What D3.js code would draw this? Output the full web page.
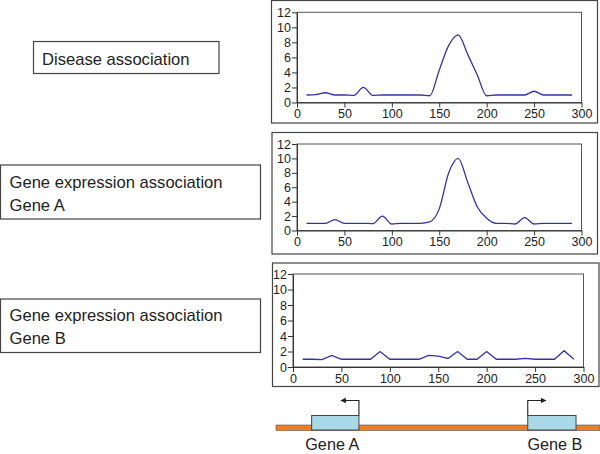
<!DOCTYPE html>
<html>
<head>
<meta charset="utf-8">
<script src="https://cdn.jsdelivr.net/npm/d3@7"></script>
<style>
  body { margin: 0; background: #fff; }
  svg { font-family: "Liberation Sans", Arial, sans-serif; }
  .axis path, .axis line { stroke: #333; }
  .axis text { font-size: 12.5px; fill: #222; }
</style>
</head>
<body>
<div id="chart"></div>
<script>
var positions = [10,20,30,40,50,60,70,80,90,100,110,120,130,140,150,160,170,180,190,200,210,220,230,240,250,260,270,280,290];
var disease = [1,1.05,1.3,1,1,0.95,2,0.95,1,1,1,1,1,0.9,4.3,7.6,9,6.4,3.7,0.9,1,1,1,1,1.5,1,1,1,1];
var geneAExpr = [1,1,1,1.5,1,1,1,0.95,2,0.9,1,1,1,1.2,3,8,10,6.7,3.3,1.7,1,1,0.9,1.8,0.9,1,1,1,1];
var geneBExpr = [1,1,0.95,1.5,1,1,1,1,2,1,1,1,1,1.5,1.4,1.1,2,1,1,2,1,1,1,1.1,1,1,1,2.1,1];
var yTicks = [0,2,4,6,8,10,12];
var xTicks = [0,50,100,150,200,250,300];
var panelLabels = [["Disease association"], ["Gene expression association", "Gene A"], ["Gene expression association", "Gene B"]];
var genes = [{name: "Gene A", start: 11, end: 25.6, dir: -1}, {name: "Gene B", start: 77.7, end: 92.6, dir: 1}];

var width = 600, height = 454;
var svg = d3.select("#chart").append("svg")
  .attr("width", width)
  .attr("height", height);

// layout of the three stacked panels
var panels = [
  {data: disease, box: [271.5, 0.5, 597.5, 123], plot: [297, 12.3, 581.5, 102.5],
   label: [33.5, 41.5, 219, 73.5], lineY: [64.5]},
  {data: geneAExpr, box: [272, 132.5, 597.5, 254], plot: [297, 144, 581.5, 230.5],
   label: [0.5, 165, 260.5, 219], lineY: [187.5, 210.5]},
  {data: geneBExpr, box: [272.5, 263, 599, 386.5], plot: [293, 274, 583.5, 367],
   label: [0.5, 299, 260.5, 352.5], lineY: [320.5, 343.5]}
];

panels.forEach(function(p, i) {
  svg.append("rect")
    .attr("x", p.box[0]).attr("y", p.box[1])
    .attr("width", p.box[2] - p.box[0]).attr("height", p.box[3] - p.box[1])
    .attr("fill", "none").attr("stroke", "#444").attr("stroke-width", 1.2);

  var xScale = d3.scaleLinear().domain([0, 300]).range([p.plot[0], p.plot[2]]);
  var yScale = d3.scaleLinear().domain([0, 12]).range([p.plot[3], p.plot[1]]);

  svg.append("rect")
    .attr("x", p.plot[0]).attr("y", p.plot[1])
    .attr("width", p.plot[2] - p.plot[0]).attr("height", p.plot[3] - p.plot[1])
    .attr("fill", "none").attr("stroke", "#555").attr("stroke-width", 1);

  svg.append("g")
    .attr("class", "axis")
    .attr("transform", `translate(0,${p.plot[3]})`)
    .call(d3.axisBottom(xScale).tickValues(xTicks).tickSize(5).tickPadding(2).tickSizeOuter(0));

  svg.append("g")
    .attr("class", "axis")
    .attr("transform", `translate(${p.plot[0]},0)`)
    .call(d3.axisLeft(yScale).tickValues(yTicks).tickSize(5).tickPadding(1).tickSizeOuter(0));

  var line = d3.line()
    .x(function(d, j) { return xScale(positions[j]); })
    .y(function(d) { return yScale(d); })
    .curve(i == 2 ? d3.curveLinear : d3.curveMonotoneX);

  svg.append("path")
    .datum(p.data)
    .attr("d", line)
    .attr("fill", "none")
    .attr("stroke", "#3434a0")
    .attr("stroke-width", 1.3);

  // label box on the left
  svg.append("rect")
    .attr("x", p.label[0]).attr("y", p.label[1])
    .attr("width", p.label[2] - p.label[0]).attr("height", p.label[3] - p.label[1])
    .attr("fill", "none").attr("stroke", "#444").attr("stroke-width", 1.2);

  panelLabels[i].forEach(function(t, k) {
    svg.append("text")
      .attr("x", p.label[0] + (i == 0 ? 8.5 : 9))
      .attr("y", p.lineY[k])
      .attr("font-size", "16.6px")
      .attr("fill", "#222")
      .text(t);
  });
});

// gene track
var trackScale = d3.scaleLinear().domain([0, 100]).range([276, 600]);

svg.append("rect")
  .attr("x", trackScale(0)).attr("y", 425)
  .attr("width", trackScale(100) - trackScale(0)).attr("height", 5.5)
  .attr("fill", "#ef7d22").attr("stroke", "#555").attr("stroke-width", 0.6);

svg.append("defs").append("marker")
  .attr("id", "arrow")
  .attr("viewBox", "0 0 10 10")
  .attr("refX", 9).attr("refY", 5)
  .attr("markerWidth", 5).attr("markerHeight", 5)
  .attr("orient", "auto")
  .append("path").attr("d", "M0,0L10,5L0,10z").attr("fill", "#222");

genes.forEach(function(g) {
  svg.append("rect")
    .attr("x", trackScale(g.start)).attr("y", 415.5)
    .attr("width", trackScale(g.end) - trackScale(g.start)).attr("height", 14.5)
    .attr("fill", "#a9d8e6").attr("stroke", "#444").attr("stroke-width", 1);

  var base = g.dir < 0 ? trackScale(g.end) : trackScale(g.start);
  svg.append("path")
    .attr("d", `M${base},415.5V400.5H${base + g.dir * 18}`)
    .attr("fill", "none")
    .attr("stroke", "#222")
    .attr("stroke-width", 1.1)
    .attr("marker-end", "url(#arrow)");

  svg.append("text")
    .attr("x", (trackScale(g.start) + trackScale(g.end)) / 2 + 3 * g.dir)
    .attr("y", 450)
    .attr("text-anchor", "middle")
    .attr("font-size", "16.2px")
    .attr("fill", "#222")
    .text(g.name);
});
</script>
</body>
</html>
